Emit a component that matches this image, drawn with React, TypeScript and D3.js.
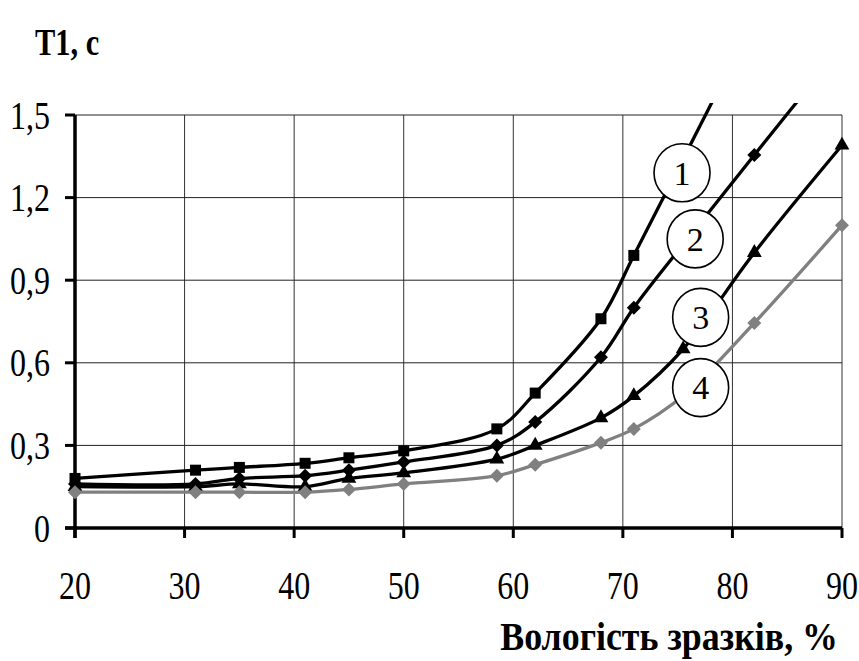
import React from "react";
import * as d3 from "d3";

const xValues = [20, 31, 35, 41, 45, 50, 58.5, 62, 68, 71, 75.5, 82, 90];
const series1 = [0.18, 0.21, 0.22, 0.235, 0.255, 0.28, 0.36, 0.49, 0.76, 0.99, 1.34, 1.85];
const series2 = [0.16, 0.16, 0.18, 0.19, 0.21, 0.24, 0.3, 0.385, 0.62, 0.8, 1.03, 1.355, 1.75];
const series3 = [0.15, 0.15, 0.16, 0.15, 0.18, 0.2, 0.25, 0.3, 0.4, 0.48, 0.65, 1.0, 1.39];
const series4 = [0.13, 0.13, 0.13, 0.13, 0.14, 0.16, 0.19, 0.23, 0.31, 0.36, 0.48, 0.745, 1.1];
const xTicks = [20, 30, 40, 50, 60, 70, 80, 90];
const yTicks = [0, 0.3, 0.6, 0.9, 1.2, 1.5];
const labelNames = ["1", "2", "3", "4"];
const labelX = [75.4, 76.6, 77.1, 77.1];
const labelY = [1.29, 1.05, 0.765, 0.51];
const yTitle = "T1, с";
const xTitle = "Вологість зразків, %";

const W = 859, H = 661;
const L = 75, R = 842, T = 115, B = 528;
const FONT = "'Liberation Serif', 'Times New Roman', serif";

type Marker = "square" | "diamond" | "triangle";

export default function App() {
  const x = d3.scaleLinear().domain([20, 90]).range([L, R]);
  const y = d3.scaleLinear().domain([0, 1.5]).range([B, T]);
  const series = [
    { values: series1, color: "#000", marker: "square" as Marker },
    { values: series2, color: "#000", marker: "diamond" as Marker },
    { values: series3, color: "#000", marker: "triangle" as Marker },
    { values: series4, color: "#808080", marker: "diamond" as Marker },
  ];
  const line = d3
    .line<[number, number]>()
    .x((d) => x(d[0]))
    .y((d) => y(d[1]))
    .curve(d3.curveCatmullRom.alpha(0.5));

  const diamondPath = (r: number) => `M0,${-r}L${r},0L0,${r}L${-r},0Z`;
  const sym = (m: Marker) => {
    if (m === "square") return d3.symbol(d3.symbolSquare, 121)();
    if (m === "triangle") return d3.symbol(d3.symbolTriangle, 95)();
    return diamondPath(7);
  };

  const fmt = (v: number) => (v === 0 ? "0" : v.toFixed(1).replace(".", ","));

  return (
    <svg width={W} height={H} style={{ position: "absolute", left: 0, top: 0, background: "#fff" }}>
      <defs>
        <clipPath id="plotclip">
          <rect x={L - 10} y={103} width={R - L + 20} height={B - 103 + 10} />
        </clipPath>
      </defs>
      <rect x={0} y={0} width={W} height={H} fill="#fff" />
      {/* grid */}
      {xTicks.slice(1).map((t) => (
        <line key={"gx" + t} x1={x(t)} x2={x(t)} y1={T} y2={B} stroke="#333" strokeWidth={1} />
      ))}
      {yTicks.slice(1).map((t) => (
        <line key={"gy" + t} x1={L} x2={R} y1={y(t)} y2={y(t)} stroke="#222" strokeWidth={1} />
      ))}
      {/* axes */}
      <line x1={L} x2={L} y1={T} y2={B + 10} stroke="#000" strokeWidth={3.5} />
      <line x1={L - 10} x2={R} y1={B} y2={B} stroke="#000" strokeWidth={3.5} />
      {yTicks.map((t) => (
        <line key={"ty" + t} x1={L - 10} x2={L} y1={y(t)} y2={y(t)} stroke="#000" strokeWidth={3} />
      ))}
      {xTicks.map((t) => (
        <line key={"tx" + t} x1={x(t)} x2={x(t)} y1={B} y2={B + 10} stroke="#000" strokeWidth={3} />
      ))}
      {/* series */}
      <g clipPath="url(#plotclip)">
        {series.map((s, i) => {
          const pts = s.values.map((v, j) => [xValues[j], v] as [number, number]);
          return (
            <g key={"s" + i}>
              <path d={line(pts) || ""} fill="none" stroke={s.color} strokeWidth={3.3} />
              {pts.map((p, j) => (
                <path
                  key={j}
                  d={sym(s.marker) || ""}
                  transform={`translate(${x(p[0])},${y(p[1])})`}
                  fill={s.color}
                />
              ))}
            </g>
          );
        })}
      </g>
      {/* labels */}
      {labelNames.map((n, i) => (
        <g key={"lab" + n} transform={`translate(${x(labelX[i])},${y(labelY[i])})`}>
          <ellipse rx={28} ry={29} fill="#fff" stroke="#000" strokeWidth={1.6} />
          <text textAnchor="middle" dy="0.35em" fontFamily={FONT} fontSize={34}>
            {n}
          </text>
        </g>
      ))}
      {/* tick labels */}
      {yTicks.map((t) => (
        <text
          key={"ly" + t}
          transform={`translate(50,${y(t)}) scale(0.8,1)`}
          textAnchor="end"
          dy="0.34em"
          fontFamily={FONT}
          fontSize={40}
        >
          {fmt(t)}
        </text>
      ))}
      {xTicks.map((t) => (
        <text
          key={"lx" + t}
          transform={`translate(${x(t)},599) scale(0.8,1)`}
          textAnchor="middle"
          fontFamily={FONT}
          fontSize={40}
        >
          {t}
        </text>
      ))}
      <text transform="translate(35,55) scale(0.8,1)" fontFamily={FONT} fontSize={38} fontWeight="bold">
        {yTitle}
      </text>
      <text
        transform="translate(838,650) scale(0.92,1)"
        textAnchor="end"
        fontFamily={FONT}
        fontSize={39}
        fontWeight="bold"
      >
        {xTitle}
      </text>
    </svg>
  );
}
